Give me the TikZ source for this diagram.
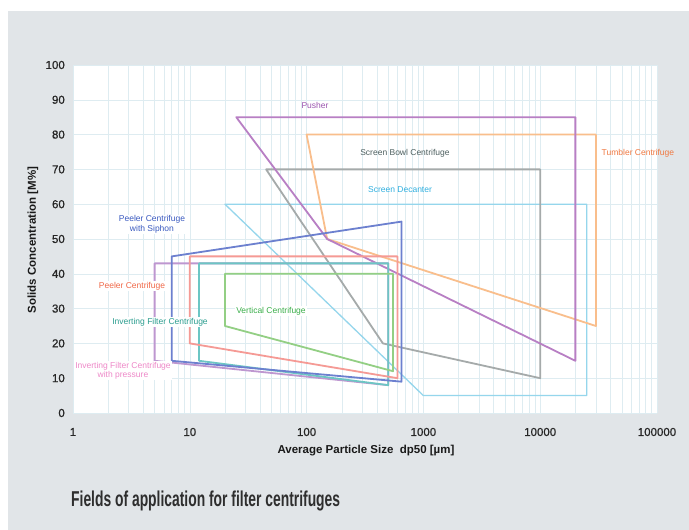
\documentclass[tikz,border=0pt]{standalone}
\usepackage{fontspec}
\setmainfont{Liberation Sans}
\newfontfamily\titlefont[FakeStretch=0.645]{Liberation Sans}
\newfontfamily\tickfont[FakeBold=0.8]{Liberation Sans}

\definecolor{panel}{HTML}{E1E5E8}
\definecolor{gridc}{HTML}{DEECF1}
\definecolor{pusher}{HTML}{B87FC4}
\definecolor{tumbler}{HTML}{F9BE8C}
\definecolor{bowl}{HTML}{A5AAAA}
\definecolor{decanter}{HTML}{95D6EC}
\definecolor{siphon}{HTML}{6C80CF}
\definecolor{peeler}{HTML}{F59A95}
\definecolor{inverting}{HTML}{6CC6C4}
\definecolor{vertical}{HTML}{93CF84}
\definecolor{pressure}{HTML}{BE97D0}
% Schriftfarben
\definecolor{tpusher}{HTML}{9B55B0}
\definecolor{tbowl}{HTML}{4E6060}
\definecolor{ttumbler}{HTML}{F07840}
\definecolor{tdecanter}{HTML}{30B0E0}
\definecolor{tsiphon}{HTML}{3A5AC0}
\definecolor{tpeeler}{HTML}{F06848}
\definecolor{tinverting}{HTML}{2A9D8F}
\definecolor{tvertical}{HTML}{3AAE4A}
\definecolor{tpressure}{HTML}{EE88C8}

\tikzset{
  gridline/.style={gridc, line width=0.5pt},
  field/.style={line width=1.8pt, line join=round},
  lbl/.style={font=\fontsize{8.5}{10}\selectfont, inner sep=0.8pt, align=center},
  lblfill/.style={lbl, fill=white},
  ticklbl/.style={font=\tickfont\fontsize{11.5}{12}\selectfont, text=black!85, inner sep=0pt},
  axistitle/.style={font=\fontsize{11.5}{12}\selectfont\bfseries, text=black!90, inner sep=0pt}
}

\begin{document}
\begin{tikzpicture}
  \useasboundingbox (0,0) rectangle (689pt,530pt);

  % grauer Hintergrund
  \fill[panel] (8pt,0) rectangle (689pt,519pt);

  % Diagramm: x = log10(dp50), y = Feststoffanteil
  % (log10 von Werten ueber 16000 von Hand: 20000 -> 4.301, 25000 -> 4.398, 30000 -> 4.477)
  \begin{scope}[shift={(73pt,117pt)}, x=116.8pt, y=3.48pt]
    \fill[white] (0,0) rectangle (5,100);

    % Gitter
    \foreach \d in {0,...,4}
      \foreach \m in {1,...,9}
        \draw[gridline] ({\d+log10(\m)},0) -- ({\d+log10(\m)},100);
    \draw[gridline] (5,0) -- (5,100);
    \foreach \y in {0,10,...,100}
      \draw[gridline] (0,\y) -- (5,\y);

    % Achsenbeschriftung
    \foreach \y in {0,10,...,100}
      \node[ticklbl, anchor=east] (yt\y) at ([xshift=-8pt]0,\y) {\y};
    \foreach \d/\v in {0/1,1/10,2/100,3/1000,4/10000,5/100000}
      \node[ticklbl] (xt\d) at ([yshift=-19pt]\d,0) {\v};

    % Screen Decanter
    \draw[decanter, line width=1.3pt, line join=round]
      ({log10(20)},60) -- (4.398,60) -- (4.398,5)
      -- (3,5) -- cycle;
    % Screen Bowl
    \draw[field, bowl]
      ({log10(45)},70) -- (4,70) -- (4,10)
      -- ({log10(450)},20) -- cycle;
    % Tumbler
    \draw[field, tumbler]
      (2,80) -- (4.477,80) -- (4.477,25)
      -- ({log10(150)},50) -- cycle;
    % Pusher
    \draw[field, pusher]
      ({log10(25)},85) -- (4.301,85) -- (4.301,15)
      -- ({log10(150)},50) -- cycle;

    % Inverting Filter mit Druck
    \draw[field, pressure]
      ({log10(5)},43) -- ({log10(500)},43) -- ({log10(500)},8)
      -- ({log10(5)},15) -- cycle;
    % Inverting Filter
    \draw[field, inverting]
      ({log10(12)},43) -- ({log10(500)},43) -- ({log10(500)},8)
      -- ({log10(12)},15) -- cycle;
    % Vertical
    \draw[field, vertical]
      ({log10(20)},40) -- ({log10(550)},40) -- ({log10(550)},12)
      -- ({log10(20)},25) -- cycle;
    % Peeler
    \draw[field, peeler]
      (1,45) -- ({log10(600)},45) -- ({log10(600)},10)
      -- (1,20) -- cycle;
    % Peeler mit Siphon
    \draw[field, siphon]
      ({log10(7)},45) -- ({log10(650)},55) -- ({log10(650)},9)
      -- ({log10(7)},15) -- cycle;

    % Bezeichnungen der Felder
    \node[lbl, text=tpusher] (lpusher) at (2.072,88.5) {Pusher};
    \node[lbl, text=tbowl] (lbowl) at (2.842,74.7) {Screen Bowl Centrifuge};
    \node[lbl, text=ttumbler] (ltumbler) at (4.837,74.7) {Tumbler Centrifuge};
    \node[lbl, text=tdecanter] (ldecanter) at (2.80,64.1) {Screen Decanter};
    \node[lblfill, text=tsiphon] (lsiphon) at (0.676,54.2) {Peeler Centrifuge\\with Siphon};
    \node[lblfill, text=tpeeler] (lpeeler) at (0.505,36.5) {Peeler Centrifuge};
    \node[lblfill, text=tinverting] (linverting) at (0.745,26.1) {Inverting Filter Centrifuge};
    \node[lblfill, text=tvertical] (lvertical) at (1.695,29.3) {Vertical Centrifuge};
    \node[lblfill, text=tpressure, font=\fontsize{8.5}{9.6}\selectfont] (lpressure) at (0.428,12.1)
      {Inverting Filter Centrifuge\\with pressure};
  \end{scope}

  % Achsentitel
  \node[axistitle] (xtitle) at (366pt,79pt) {Average Particle Size\ \ dp50 [µm]};
  \node[axistitle, rotate=90] (ytitle) at (33pt,290pt) {Solids Concentration [M\%]};

  % Überschrift
  \node[anchor=base west, inner sep=0pt, text=black!82,
    font=\titlefont\fontsize{21.5}{24}\selectfont\bfseries] (title) at (71pt,23pt)
    {Fields of application for filter centrifuges};
\end{tikzpicture}
\end{document}
